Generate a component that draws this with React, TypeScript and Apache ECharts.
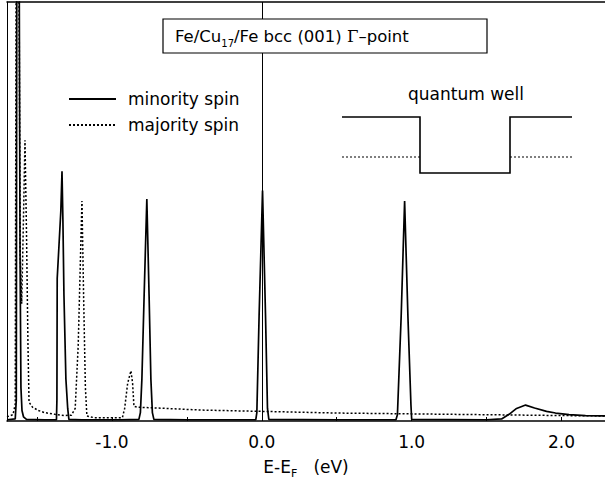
import React, { useEffect, useRef } from "react";
import * as echarts from "echarts";

// Energy range (eV) and axis ticks
const xMin = -1.7;
const xMax = 2.29;
const tickValues = [-1.5, -1.0, -0.5, 0.0, 0.5, 1.0, 1.5, 2.0];
const labelValues = [-1.0, 0.0, 1.0, 2.0];

// Minority spin DOS (solid) — [E - EF (eV), DOS (arb.)]
const minoritySpin: [number, number][] = [
  [-1.7, 0.3], [-1.645, 0.5], [-1.638, 5], [-1.633, 150], [-1.622, 150],
  [-1.613, 40], [-1.607, 8], [-1.6, 2.5], [-1.59, 1], [-1.57, 0.4],
  [-1.45, 0.3], [-1.37, 0.3], [-1.367, 5], [-1.365, 34], [-1.353, 42],
  [-1.341, 50], [-1.333, 59.6], [-1.327, 48], [-1.32, 30], [-1.307, 10],
  [-1.295, 3], [-1.287, 0.4], [-1.2, 0.3], [-0.95, 0.3], [-0.82, 0.4],
  [-0.81, 2], [-0.8, 10], [-0.785, 30], [-0.767, 53], [-0.752, 30],
  [-0.74, 10], [-0.73, 2], [-0.72, 0.4], [-0.5, 0.3], [-0.04, 0.3],
  [-0.033, 2], [-0.018, 25], [0.005, 55], [0.025, 25], [0.038, 3],
  [0.047, 0.4], [0.5, 0.3], [0.895, 0.3], [0.905, 1.5], [0.93, 25],
  [0.953, 52.5], [0.975, 25], [0.995, 4], [1.0, 0.4], [1.5, 0.3],
  [1.6, 0.5], [1.65, 1.6], [1.7, 3], [1.76, 3.8], [1.82, 3.1],
  [1.9, 2.3], [1.96, 1.9], [2.05, 1.5], [2.16, 1.3], [2.29, 1.2],
];

// Majority spin DOS (dotted)
const majoritySpin: [number, number][] = [
  [-1.7, 1], [-1.66, 1.5], [-1.645, 4], [-1.637, 150], [-1.625, 150],
  [-1.612, 40], [-1.602, 28], [-1.592, 45], [-1.58, 67], [-1.57, 45],
  [-1.56, 18], [-1.553, 4.5], [-1.53, 3.3], [-1.49, 2.5], [-1.45, 2],
  [-1.38, 1.6], [-1.32, 1.3], [-1.27, 1.4], [-1.245, 3], [-1.225, 18],
  [-1.2, 52.5], [-1.188, 28], [-1.177, 8], [-1.167, 1.2], [-1.12, 0.8],
  [-0.93, 0.8], [-0.915, 3], [-0.895, 9], [-0.873, 12], [-0.862, 9],
  [-0.853, 3.5], [-0.83, 3.3], [-0.7, 3.1], [-0.4, 2.6], [0.0, 2.3],
  [0.5, 1.9], [1.0, 1.7], [1.5, 1.5], [2.0, 1.3], [2.29, 1.2],
];

const seriesNames = ["minority spin", "majority spin"];
const fermiLevel = [0];

const FONT = "DejaVu Sans, Verdana, sans-serif";

export default function App() {
  const ref = useRef<HTMLDivElement>(null);

  useEffect(() => {
    if (!ref.current) return;
    const chart = echarts.init(ref.current, undefined, { renderer: "svg" });
    const option: any = {
      animation: false,
      backgroundColor: "#fff",
      grid: { left: 7, right: 0, top: 2, bottom: 61, containLabel: false },
      legend: {
        show: true,
        orient: "vertical",
        left: 68,
        top: 89,
        padding: 0,
        itemWidth: 47,
        itemHeight: 14,
        itemGap: 6,
        data: seriesNames,
        itemStyle: { opacity: 0, borderWidth: 0 },
        textStyle: {
          color: "#000",
          fontSize: 17,
          fontFamily: FONT,
          lineHeight: 20,
          padding: [0, 0, 0, 7],
        },
      },
      xAxis: [
        {
          type: "value",
          min: xMin,
          max: xMax,
          position: "bottom",
          axisLine: { show: true, onZero: false, lineStyle: { color: "#000", width: 1.5 } },
          axisTick: {
            show: true,
            inside: true,
            length: 4,
            customValues: tickValues,
            lineStyle: { color: "#000", width: 1 },
          },
          axisLabel: {
            show: true,
            customValues: labelValues,
            formatter: (v: number) => v.toFixed(1),
            color: "#000",
            fontSize: 17,
            fontFamily: FONT,
            margin: 12,
          },
          splitLine: { show: false },
          name: "{a|E-E}{s|F}{a|   (eV)}",
          nameLocation: "middle",
          nameGap: 34,
          nameTextStyle: {
            color: "#000",
            fontSize: 17,
            fontFamily: FONT,
            rich: {
              a: { fontSize: 17, fontFamily: FONT, color: "#000", lineHeight: 24 },
              s: { fontSize: 11, fontFamily: FONT, color: "#000", lineHeight: 14, verticalAlign: "bottom" },
            },
          },
        },
        {
          type: "value",
          min: xMin,
          max: xMax,
          position: "top",
          axisLine: { show: true, onZero: false, lineStyle: { color: "#000", width: 1.5 } },
          axisTick: { show: false },
          axisLabel: { show: false },
          splitLine: { show: false },
        },
      ],
      yAxis: {
        type: "value",
        min: 0,
        max: 100,
        axisLine: { show: true, onZero: false, lineStyle: { color: "#000", width: 1 } },
        axisTick: { show: false },
        axisLabel: { show: false },
        splitLine: { show: false },
      },
      series: [
        {
          name: seriesNames[0],
          type: "line",
          data: minoritySpin,
          symbol: "none",
          clip: true,
          lineStyle: { color: "#000", width: 1.7, type: "solid" },
          itemStyle: { color: "#000" },
          markLine: {
            silent: true,
            symbol: ["none", "none"],
            label: { show: false },
            lineStyle: { color: "#000", width: 1, type: "solid" },
            data: fermiLevel.map((v) => ({ xAxis: v })),
          },
        },
        {
          name: seriesNames[1],
          type: "line",
          data: majoritySpin,
          symbol: "none",
          clip: true,
          lineStyle: { color: "#000", width: 1.5, type: [2, 2] },
          itemStyle: { color: "#000" },
        },
      ],
      graphic: [
        {
          type: "rect",
          shape: { x: 163, y: 19, width: 324, height: 34 },
          style: { fill: "#fff", stroke: "#000", lineWidth: 1.2 },
          z: 10,
        },
        {
          type: "text",
          x: 175,
          y: 36,
          z: 11,
          style: {
            text: "{a|Fe/Cu}{s|17}{a|/Fe bcc (001) }{g|Γ}{a|–point}",
            fill: "#000",
            fontSize: 16.5,
            fontFamily: FONT,
            align: "left",
            verticalAlign: "middle",
            rich: {
              a: { fontSize: 16.5, fontFamily: FONT, fill: "#000", lineHeight: 24 },
              s: { fontSize: 10, fontFamily: FONT, fill: "#000", lineHeight: 14, verticalAlign: "bottom" },
              g: { fontSize: 16.5, fontFamily: "DejaVu Serif, serif", fill: "#000", lineHeight: 24 },
            },
          },
        },
        {
          type: "text",
          x: 466,
          y: 94,
          z: 11,
          style: {
            text: "quantum well",
            fill: "#000",
            fontSize: 17,
            fontFamily: FONT,
            align: "center",
            verticalAlign: "middle",
          },
        },
        {
          type: "polyline",
          z: 11,
          shape: {
            points: [
              [342, 117], [420, 117], [420, 173], [510, 173], [510, 117], [572, 117],
            ],
          },
          style: { stroke: "#000", lineWidth: 1.6, fill: null },
        },
        {
          type: "line",
          z: 11,
          shape: { x1: 342, y1: 157, x2: 420, y2: 157 },
          style: { stroke: "#000", lineWidth: 1.2, lineDash: [2, 2] },
        },
        {
          type: "line",
          z: 11,
          shape: { x1: 510, y1: 157, x2: 572, y2: 157 },
          style: { stroke: "#000", lineWidth: 1.2, lineDash: [2, 2] },
        },
      ],
    };
    chart.setOption(option);
    return () => chart.dispose();
  }, []);

  return (
    <div
      ref={ref}
      style={{ position: "fixed", left: 0, top: 0, width: 605, height: 484, background: "#fff" }}
    />
  );
}
